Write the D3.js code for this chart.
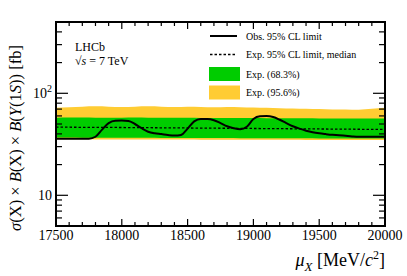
<!DOCTYPE html>
<html>
<head>
<meta charset="utf-8">
<script src="https://cdn.jsdelivr.net/npm/d3@7"></script>
<style>
  body { margin: 0; background: #fff; }
  text { font-family: 'Liberation Serif', 'DejaVu Serif', serif; fill: #000; }
</style>
</head>
<body>
<div id="chart"></div>
<script>
// observed limit, 50 MeV steps
const obsMass = d3.range(17500, 20001, 50)
const obsLimit = [35.9, 35.9, 35.9, 35.9, 35.9, 35.9, 37.5, 44, 51, 53.9,
  54, 53.5, 50, 45.5, 42, 40.5, 39.8, 39, 38.5, 39,
  45, 53, 56, 56, 54.5, 51, 47.5, 45.5, 44.5, 47,
  56, 59.5, 59.8, 58.5, 55, 51, 47.5, 45, 43, 41.5,
  40.5, 39.8, 39.2, 38.8, 38.3, 37.8, 37.5, 37.5, 37.4, 37.4, 37.4]

// expected bands, 100 MeV steps
const expMass = d3.range(17500, 20001, 100)
const exp95Up = [72, 73, 74, 74.5, 74, 73.5, 74, 74.5, 74, 73.5, 74, 73.5, 73,
  73.5, 73, 72.5, 72, 71.5, 71, 70.5, 70, 69.5, 69.5, 69, 70.5, 72]
const exp68Up = [57.5, 57.8, 57.8, 57.7, 57.6, 57.7, 57.8, 57.6, 57.5, 57.6, 57.5, 57.4, 57.3,
  57.3, 57.2, 57.1, 57, 57, 56.9, 56.8, 56.7, 56.6, 56.6, 56.5, 56.6, 56.7]
const expMedian = [46.5, 46.5, 46.4, 46.4, 46.3, 46.2, 46.1, 46, 45.9, 45.8, 45.7, 45.6, 45.5,
  45.4, 45.3, 45.2, 45.1, 45, 44.9, 44.8, 44.7, 44.6, 44.5, 44.4, 44.3, 44.2]
const exp68Lo = [36.8, 36.8, 36.7, 36.7, 36.7, 36.6, 36.6, 36.6, 36.5, 36.5, 36.5, 36.4, 36.4,
  36.4, 36.3, 36.3, 36.3, 36.2, 36.2, 36.2, 36.1, 36.1, 36.1, 36, 36, 36]
const exp95Lo = [35.4, 35.4, 35.4, 35.3, 35.3, 35.3, 35.3, 35.2, 35.2, 35.2, 35.2, 35.1, 35.1,
  35.1, 35.1, 35, 35, 35, 35, 34.9, 34.9, 34.9, 34.9, 34.8, 34.8, 34.8]

const xTicks = [17500, 18000, 18500, 19000, 19500, 20000]
const legendLabels = ['Obs. 95% CL limit', 'Exp. 95% CL limit, median', 'Exp. (68.3%)', 'Exp. (95.6%)']

const width = 407, height = 276
const margin = {top: 22, right: 22, bottom: 50, left: 56}
const green = '#00cc00', yellow = '#ffcc33'

const svg = d3.select('#chart').append('svg')
  .attr('width', width)
  .attr('height', height)

const x = d3.scaleLinear().domain([17500, 20000]).range([margin.left, width - margin.right])
const y = d3.scaleLog().domain([5, 500]).range([height - margin.bottom, margin.top])

const band = (lo, hi) => d3.area()
  .x((d, i) => x(expMass[i]))
  .y0((d, i) => y(lo[i]))
  .y1((d, i) => y(hi[i]))
  .curve(d3.curveMonotoneX)(expMass)

svg.append('path').attr('d', band(exp95Lo, exp95Up)).attr('fill', yellow)
svg.append('path').attr('d', band(exp68Lo, exp68Up)).attr('fill', green)

svg.append('path')
  .attr('d', d3.line().x((d, i) => x(expMass[i])).y((d, i) => y(expMedian[i]))(expMass))
  .attr('fill', 'none').attr('stroke', '#000').attr('stroke-width', 1.3)
  .attr('stroke-dasharray', '2.5,2')

svg.append('path')
  .attr('d', d3.line().x((d, i) => x(obsMass[i])).y((d, i) => y(obsLimit[i]))
    .curve(d3.curveMonotoneX)(obsMass))
  .attr('fill', 'none').attr('stroke', '#000').attr('stroke-width', 2)
  .attr('stroke-linejoin', 'round')

// axes, ticks inward
const x0 = x.range()[0], x1 = x.range()[1], y0 = y.range()[0], y1 = y.range()[1]
const minorX = d3.range(17500, 20001, 100)
const tickG = svg.append('g').attr('stroke', '#000').attr('stroke-width', 1.2)
minorX.forEach(m => {
  const len = m % 500 === 0 ? 7 : 4
  tickG.append('line').attr('x1', x(m)).attr('x2', x(m)).attr('y1', y0).attr('y2', y0 - len)
  tickG.append('line').attr('x1', x(m)).attr('x2', x(m)).attr('y1', y1).attr('y2', y1 + len)
})
const logTicks = []
;[1, 10, 100].forEach(dec => d3.range(1, 10).forEach(k => {
  const v = dec * k
  if (v >= 5 && v <= 500) logTicks.push(v)
}))
logTicks.forEach(v => {
  const len = (v === 10 || v === 100) ? 12 : 6
  tickG.append('line').attr('x1', x0).attr('x2', x0 + len).attr('y1', y(v)).attr('y2', y(v))
  tickG.append('line').attr('x1', x1).attr('x2', x1 - len).attr('y1', y(v)).attr('y2', y(v))
})

svg.append('rect')
  .attr('x', x0).attr('y', y1).attr('width', x1 - x0).attr('height', y0 - y1)
  .attr('fill', 'none').attr('stroke', '#000').attr('stroke-width', 2)

svg.append('g').selectAll('text').data(xTicks).join('text')
  .attr('x', d => x(d)).attr('y', y0 + 14)
  .attr('text-anchor', 'middle').style('font-size', '14px')
  .text(d => d)

svg.append('text').attr('x', x0 - 4).attr('y', y(10) + 5)
  .attr('text-anchor', 'end').style('font-size', '14px').text('10')
const t100 = svg.append('text').attr('x', x0 - 4).attr('y', y(100) + 5)
  .attr('text-anchor', 'end').style('font-size', '14px')
t100.append('tspan').text('10')
t100.append('tspan').attr('dy', -6).style('font-size', '10px').text('2')

// axis titles
const xt = svg.append('text').attr('x', x1).attr('y', 266)
  .attr('text-anchor', 'end').style('font-size', '18px')
xt.append('tspan').style('font-style', 'italic').text('μ')
xt.append('tspan').attr('dy', 5).style('font-style', 'italic').style('font-size', '13px').text('X')
xt.append('tspan').attr('dy', -5).text(' [MeV/')
xt.append('tspan').style('font-style', 'italic').text('c')
xt.append('tspan').attr('dy', -7).style('font-size', '12px').text('2')
xt.append('tspan').attr('dy', 7).text(']')

const yt = svg.append('text')
  .attr('transform', `translate(21,${(y0 + y1) / 2 + 14}) rotate(-90)`)
  .attr('text-anchor', 'middle').style('font-size', '16.5px')
yt.append('tspan').style('font-style', 'italic').text('σ')
yt.append('tspan').text('(X) × ')
yt.append('tspan').style('font-style', 'italic').text('B')
yt.append('tspan').text('(X) × ')
yt.append('tspan').style('font-style', 'italic').text('B')
yt.append('tspan').text('(')
yt.append('tspan').style('font-style', 'italic').text('Υ')
yt.append('tspan').text('(1')
yt.append('tspan').style('font-style', 'italic').text('S')
yt.append('tspan').text(')) [fb]')

// LHCb label
svg.append('text').attr('x', 75).attr('y', 51).style('font-size', '12px').text('LHCb')
const sq = svg.append('text').attr('x', 75).attr('y', 65).style('font-size', '12px')
sq.append('tspan').text('√')
sq.append('tspan').style('font-style', 'italic').text('s')
sq.append('tspan').text(' = 7 TeV')

// legend
const leg = svg.append('g')
const rowY = [36, 54.5, 74, 92.5]
leg.append('line').attr('x1', 210).attr('x2', 237).attr('y1', rowY[0]).attr('y2', rowY[0])
  .attr('stroke', '#000').attr('stroke-width', 2)
leg.append('line').attr('x1', 210).attr('x2', 237).attr('y1', rowY[1]).attr('y2', rowY[1])
  .attr('stroke', '#000').attr('stroke-width', 1.3).attr('stroke-dasharray', '2.5,2')
leg.append('rect').attr('x', 209).attr('y', rowY[2] - 7).attr('width', 31).attr('height', 14).attr('fill', green)
leg.append('rect').attr('x', 209).attr('y', rowY[3] - 7).attr('width', 31).attr('height', 14).attr('fill', yellow)
leg.selectAll('text').data(legendLabels).join('text')
  .attr('x', 246).attr('y', (d, i) => rowY[i] + 3.5)
  .style('font-size', '10px')
  .text(d => d)
</script>
</body>
</html>
